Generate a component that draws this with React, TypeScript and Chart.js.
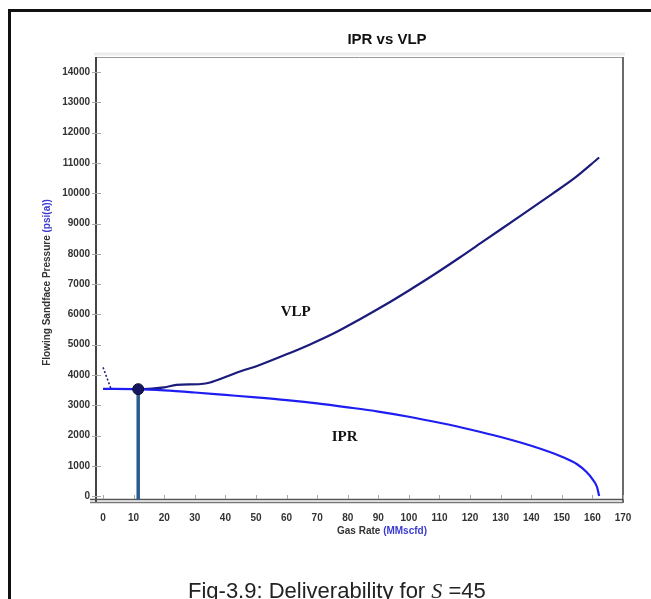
import React, { useEffect, useRef } from "react";
import { Chart, registerables } from "chart.js";

Chart.register(...registerables);

// ---- data ----
const iprRate = [0, 11.5, 20, 30, 40, 50, 60, 70, 80, 90, 100, 110, 120, 130, 140, 150, 155, 158, 160, 161.5, 162.2];
const iprPressure = [3540, 3530, 3490, 3420, 3340, 3260, 3170, 3060, 2930, 2790, 2620, 2420, 2200, 1950, 1660, 1300, 1050, 800, 560, 300, 0];

const vlpRate = [11.5, 16, 20, 24, 32, 35, 40, 45, 51, 60, 67.5, 75, 84, 92, 100, 108, 116.5, 125, 136, 147, 154, 162.2];
const vlpPressure = [3530, 3550, 3590, 3670, 3700, 3750, 3930, 4120, 4320, 4680, 5000, 5350, 5840, 6300, 6790, 7300, 7870, 8460, 9220, 9990, 10490, 11182];

const vlpUnstableRate = [0, 2.5];
const vlpUnstablePressure = [4250, 3570];

const opRate = 11.5;
const opPressure = 3530;

const xTicks = [0, 10, 20, 30, 40, 50, 60, 70, 80, 90, 100, 110, 120, 130, 140, 150, 160, 170];
const yTicks = [0, 1000, 2000, 3000, 4000, 5000, 6000, 7000, 8000, 9000, 10000, 11000, 12000, 13000, 14000];

const X_MIN = -2.3;
const X_MAX = 170;
const Y_MIN = -130;
const Y_MAX = 14500;

const curveLabels = [
  { text: "VLP", x: 63, y: 6090 },
  { text: "IPR", x: 79, y: 1950 },
];

const pts = (xs: number[], ys: number[]) => xs.map((x, i) => ({ x, y: ys[i] }));

const SANS = 'Arial, "Liberation Sans", sans-serif';

const decorPlugin = {
  id: "decor",
  beforeDatasetsDraw(chart: any) {
    const { ctx, chartArea: a, scales } = chart;
    const xs = scales.x;
    const ys = scales.y;
    ctx.save();
    ctx.strokeStyle = "#ececec";
    ctx.lineWidth = 3;
    ctx.beginPath();
    ctx.moveTo(a.left - 2, a.top - 3);
    ctx.lineTo(a.right + 2, a.top - 3);
    ctx.stroke();
    ctx.strokeStyle = "#9a9a9a";
    ctx.lineWidth = 1;
    ctx.beginPath();
    ctx.moveTo(a.left, a.top + 0.5);
    ctx.lineTo(a.right, a.top + 0.5);
    ctx.stroke();
    ctx.strokeStyle = "#6a6a6a";
    ctx.lineWidth = 2;
    ctx.beginPath();
    ctx.moveTo(a.right, a.top);
    ctx.lineTo(a.right, a.bottom + 3);
    ctx.stroke();
    ctx.strokeStyle = "#444";
    ctx.lineWidth = 2;
    ctx.beginPath();
    ctx.moveTo(a.left, a.top);
    ctx.lineTo(a.left, a.bottom + 3);
    ctx.stroke();
    ctx.strokeStyle = "#555";
    ctx.lineWidth = 1.5;
    ctx.beginPath();
    ctx.moveTo(a.left - 6, a.bottom - 0.5);
    ctx.lineTo(a.right, a.bottom - 0.5);
    ctx.stroke();
    ctx.strokeStyle = "#777";
    ctx.beginPath();
    ctx.moveTo(a.left - 6, a.bottom + 2.5);
    ctx.lineTo(a.right, a.bottom + 2.5);
    ctx.stroke();
    ctx.strokeStyle = "#a8a8a8";
    ctx.lineWidth = 1;
    yTicks.forEach((v) => {
      const py = Math.round(ys.getPixelForValue(v)) + 0.5;
      ctx.beginPath();
      ctx.moveTo(a.left - 4, py);
      ctx.lineTo(a.left + 5, py);
      ctx.stroke();
    });
    xTicks.forEach((v) => {
      const px = Math.round(xs.getPixelForValue(v)) + 0.5;
      ctx.beginPath();
      ctx.moveTo(px, a.bottom - 5);
      ctx.lineTo(px, a.bottom - 1);
      ctx.stroke();
    });
    ctx.restore();
  },
  afterDraw(chart: any) {
    const { ctx, chartArea: a, scales } = chart;
    const xs = scales.x;
    const ys = scales.y;
    ctx.save();
    ctx.fillStyle = "#111";
    ctx.font = `bold 15px ${SANS}`;
    ctx.textAlign = "center";
    ctx.textBaseline = "middle";
    ctx.fillText("IPR vs VLP", 387, 40);

    ctx.font = 'bold 15px "Times New Roman", "Liberation Serif", serif';
    ctx.fillStyle = "#111";
    curveLabels.forEach((l) => {
      ctx.fillText(l.text, xs.getPixelForValue(l.x), ys.getPixelForValue(l.y));
    });

    ctx.font = `bold 10px ${SANS}`;
    const xa = "Gas Rate ";
    const xb = "(MMscfd)";
    const wa = ctx.measureText(xa).width;
    const wb = ctx.measureText(xb).width;
    const sx = 382 - (wa + wb) / 2;
    ctx.textAlign = "left";
    ctx.fillStyle = "#333";
    ctx.fillText(xa, sx, 531);
    ctx.fillStyle = "#3a3ad0";
    ctx.fillText(xb, sx + wa, 531);

    const ya = "Flowing Sandface Pressure ";
    const yb = "(psi(a))";
    const wya = ctx.measureText(ya).width;
    const wyb = ctx.measureText(yb).width;
    ctx.translate(47, (a.top + a.bottom) / 2 + 4);
    ctx.rotate(-Math.PI / 2);
    const sy = -(wya + wyb) / 2;
    ctx.fillStyle = "#333";
    ctx.fillText(ya, sy, 0);
    ctx.fillStyle = "#3a3ad0";
    ctx.fillText(yb, sy + wya, 0);
    ctx.restore();
  },
};

export default function App() {
  const ref = useRef<HTMLCanvasElement | null>(null);

  useEffect(() => {
    if (!ref.current) return;
    const tickFont = { family: SANS, size: 10, weight: "bold" as const };
    const chart = new Chart(ref.current, {
      type: "scatter",
      data: {
        datasets: [
          {
            label: "Operating point",
            data: [{ x: opRate, y: opPressure }],
            pointRadius: 5.5,
            pointBackgroundColor: "#16165e",
            pointBorderColor: "#0a0a3a",
            pointBorderWidth: 1,
            showLine: false,
            order: 0,
          },
          {
            label: "Rate line",
            data: [
              { x: opRate, y: opPressure },
              { x: opRate, y: Y_MIN },
            ],
            showLine: true,
            borderColor: "#2d5b8c",
            borderWidth: 3.5,
            pointRadius: 0,
            order: 1,
          },
          {
            label: "IPR",
            data: pts(iprRate, iprPressure),
            showLine: true,
            borderColor: "#1e1ef2",
            borderWidth: 2.2,
            pointRadius: 0,
            cubicInterpolationMode: "monotone",
            order: 2,
          },
          {
            label: "VLP",
            data: pts(vlpRate, vlpPressure),
            showLine: true,
            borderColor: "#1b1b7c",
            borderWidth: 2.2,
            pointRadius: 0,
            cubicInterpolationMode: "monotone",
            order: 3,
          },
          {
            label: "VLP unstable",
            data: pts(vlpUnstableRate, vlpUnstablePressure),
            showLine: true,
            borderColor: "#1b1b7c",
            borderWidth: 1.5,
            borderDash: [2, 2],
            pointRadius: 0,
            order: 4,
          },
        ],
      },
      options: {
        responsive: false,
        animation: false,
        layout: { padding: { left: 0, top: 57, right: 28, bottom: 59 } },
        plugins: {
          legend: { display: false },
          title: { display: false },
          tooltip: { enabled: false },
        },
        scales: {
          x: {
            type: "linear",
            min: X_MIN,
            max: X_MAX,
            afterBuildTicks: (s: any) => {
              s.ticks = xTicks.map((v) => ({ value: v }));
            },
            afterFit: (s: any) => {
              s.height = 40;
            },
            grid: { display: false, drawTicks: false },
            border: { display: false },
            ticks: {
              font: tickFont,
              color: "#333",
              padding: 12,
              maxRotation: 0,
              autoSkip: false,
              callback: (v: any) => String(v),
            },
          },
          y: {
            type: "linear",
            min: Y_MIN,
            max: Y_MAX,
            afterBuildTicks: (s: any) => {
              s.ticks = yTicks.map((v) => ({ value: v }));
            },
            afterFit: (s: any) => {
              s.width = 96;
            },
            grid: { display: false, drawTicks: false },
            border: { display: false },
            ticks: {
              font: tickFont,
              color: "#333",
              padding: 6,
              autoSkip: false,
              callback: (v: any) => String(v),
            },
          },
        },
      },
      plugins: [decorPlugin],
    });
    return () => chart.destroy();
  }, []);

  return (
    <div style={{ position: "fixed", left: 0, top: 0, width: 651, height: 599, overflow: "hidden", background: "#fff" }}>
      <div
        style={{
          position: "absolute",
          left: 8,
          top: 9,
          width: 700,
          height: 700,
          borderLeft: "3px solid #111",
          borderTop: "3px solid #111",
        }}
      />
      <canvas ref={ref} width={651} height={599} style={{ position: "absolute", left: 0, top: 0 }} />
      <div
        style={{
          position: "absolute",
          left: 188,
          top: 579,
          fontFamily: SANS,
          fontSize: 22,
          color: "#222",
          whiteSpace: "nowrap",
          lineHeight: "24px",
        }}
      >
        Fig-3.9: Deliverability for{" "}
        <span style={{ fontFamily: '"Times New Roman", "Liberation Serif", serif', fontStyle: "italic" }}>S</span> =45
      </div>
    </div>
  );
}
